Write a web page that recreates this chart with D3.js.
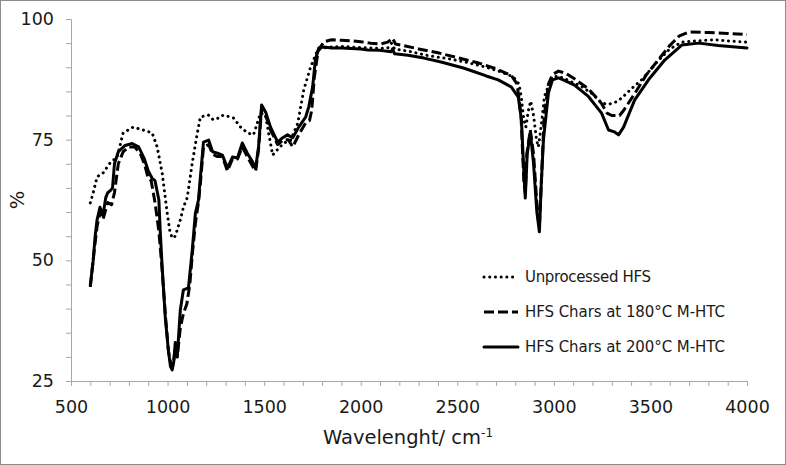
<!DOCTYPE html>
<html><head><meta charset="utf-8">
<script src="https://cdn.jsdelivr.net/npm/d3@7"></script>
<style>body{margin:0;background:#fff}svg{display:block}text{font-family:"DejaVu Sans",sans-serif;fill:#1a1a1a}</style>
</head><body>
<svg id="c" width="786" height="465"></svg>
<script>
// Series: [wavenumber, %] pairs
const seriesNames = ["Unprocessed HFS", "HFS Chars at 180°C M-HTC", "HFS Chars at 200°C M-HTC"];
const unprocessed = [[600,61.9],[615,64],[635,67.3],[666,68.1],[703,70.2],[739,71.4],[770,76.4],[822,77.6],[874,77],[920,76.4],[946,73.5],[972,68.1],[998,59.8],[1012,56],[1024,54.6],[1040,55],[1066,58.4],[1082,61],[1102,63],[1128,70.2],[1154,76.4],[1170,79.7],[1211,80.1],[1237,79.1],[1265,79.5],[1289,80.1],[1341,79.5],[1380,77.5],[1414,76.4],[1445,76],[1481,80.5],[1507,80.1],[1523,76.4],[1544,71.8],[1559,72.5],[1601,74.3],[1637,74.9],[1674,78.4],[1705,85.3],[1741,90.1],[1777,93.6],[1809,94],[1850,94.2],[1900,94.3],[1950,94.2],[2000,94.1],[2050,94.0],[2100,93.9],[2140,94.0],[2160,95.0],[2175,93.8],[2250,93.3],[2350,92.4],[2450,91.8],[2550,91.0],[2650,90.0],[2730,89.0],[2790,88],[2820,86.5],[2832,83.5],[2845,79],[2855,77.6],[2868,81],[2880,83],[2895,80],[2910,75],[2920,73.5],[2935,78],[2951,83.9],[2987,87.8],[3020,88.2],[3080,87.2],[3143,86],[3200,84.5],[3247,82.6],[3283,82.3],[3320,82.8],[3351,83.6],[3400,85.5],[3455,87.4],[3500,89.5],[3543,91.5],[3600,93.8],[3662,95.2],[3750,95.5],[3834,95.7],[3920,95.4],[4000,95.2]];
const chars180 = [[600,44.5],[620,52],[635,57],[650,60],[666,58.5],[690,62],[710,61.5],[725,64],[745,70],[770,72.5],[800,73.5],[830,73.5],[860,72],[880,70],[900,67],[915,66.5],[935,62],[955,56],[970,49],[990,38],[1005,31],[1020,28],[1030,28.5],[1040,32],[1050,30],[1066,36],[1082,39],[1100,41],[1115,45],[1130,52],[1145,58],[1160,62],[1170,66],[1186,73.5],[1213,74],[1233,72],[1258,71.5],[1284,71.5],[1310,68.5],[1336,71],[1362,71],[1387,73.5],[1413,71.5],[1440,69.5],[1456,68.5],[1471,73],[1487,81.5],[1508,80],[1533,77],[1570,74],[1600,75],[1625,75],[1648,73.5],[1679,76],[1715,78.5],[1735,79],[1746,81],[1760,88],[1780,93.5],[1810,95.3],[1850,95.7],[1900,95.6],[1950,95.5],[2000,95.3],[2050,95.0],[2100,94.8],[2140,95.2],[2165,96],[2180,94.8],[2220,94.5],[2300,93.8],[2400,93.0],[2500,92.0],[2600,91.0],[2700,89.7],[2780,88.3],[2810,86.5],[2830,80],[2845,66],[2852,64],[2860,72],[2878,77],[2895,72],[2915,60],[2925,57],[2935,66],[2950,80],[2972,86.5],[2993,88.5],[3024,89.2],[3060,88.8],[3107,87.6],[3180,85.5],[3247,82.5],[3275,80.5],[3300,80],[3340,80],[3360,81],[3418,84.5],[3480,88.5],[3540,91.5],[3600,94.5],[3650,96.5],[3700,97.3],[3800,97.2],[3900,97.0],[4000,96.8]];
const chars200 = [[600,44.8],[615,50],[625,55],[635,58.4],[650,61],[666,59.4],[680,63],[690,64],[705,64.5],[715,65],[725,70],[745,72.5],[780,73.8],[817,74.2],[850,73.5],[880,71],[900,68.5],[920,67],[935,66.5],[955,62.5],[962,56],[972,48.6],[988,38.3],[1004,31.4],[1015,28],[1024,27.3],[1032,29],[1040,33],[1050,30],[1066,39.7],[1082,43.9],[1108,44.3],[1128,52.2],[1144,59.8],[1160,62.5],[1170,67.3],[1186,74.5],[1213,74.9],[1233,72.5],[1258,72.2],[1284,71.8],[1310,69.1],[1336,71.4],[1362,71.2],[1387,74.3],[1413,72.2],[1440,70.4],[1456,69.1],[1471,73.5],[1487,82.2],[1508,80.7],[1533,77.6],[1570,74.5],[1596,75.4],[1621,76],[1648,75.4],[1679,77.6],[1715,79.7],[1731,81.8],[1751,85.9],[1765,91.5],[1783,94],[1809,94.2],[1850,94.0],[1900,94.0],[1950,93.9],[2000,93.8],[2037,93.6],[2100,93.5],[2157,93.2],[2165,93.8],[2175,92.8],[2245,92.5],[2328,91.9],[2416,91.1],[2536,89.8],[2650,88.2],[2712,87.4],[2780,85.9],[2816,83.8],[2832,79.1],[2845,68],[2852,62.9],[2862,72],[2878,76.6],[2895,70],[2912,60],[2925,55.9],[2935,66],[2946,74.9],[2972,84.7],[2993,87.4],[3024,87.8],[3060,87.2],[3107,86.3],[3180,83.9],[3247,80.5],[3283,77],[3314,76.6],[3335,76],[3361,77.6],[3418,83.2],[3490,87.4],[3574,91.5],[3662,94.6],[3751,95],[3850,94.5],[4000,94]];
const xTicks = [500,1000,1500,2000,2500,3000,3500,4000];
const yTicks = [25,50,75,100];

const svg = d3.select("#c");
const W = 786, H = 465;
const m = {left:71, right:39, top:19, bottom:84};
const x = d3.scaleLinear().domain([500,4000]).range([m.left, W-m.right]);
const y = d3.scaleLinear().domain([25,100]).range([H-m.bottom, m.top]);
const axisCol = "#a6a6a6";

svg.append("rect").attr("x",0.5).attr("y",0.5).attr("width",W-1).attr("height",H-1)
  .attr("fill","#fff").attr("stroke","#8c8c8c");

// x axis (minor ticks every 100)
const gx = svg.append("g").attr("transform",`translate(0,${y(25)})`)
  .call(d3.axisBottom(x).tickValues(d3.range(500,4001,100)).tickSize(5).tickFormat(d=>xTicks.includes(d)?d:""));
gx.select(".domain").attr("stroke",axisCol);
gx.selectAll(".tick line").attr("stroke",axisCol);
gx.selectAll(".tick text").attr("font-size",17.5).attr("y",26).attr("dy","0.35em").attr("fill","#1a1a1a").attr("font-family","DejaVu Sans");

const gy = svg.append("g").attr("transform",`translate(${x(500)},0)`)
  .call(d3.axisLeft(y).tickValues(d3.range(25,101,5)).tickSize(5).tickFormat(d=>yTicks.includes(d)?d:""));
gy.select(".domain").attr("stroke",axisCol);
gy.selectAll(".tick line").attr("stroke",axisCol);
gy.selectAll(".tick text").attr("font-size",17.5).attr("x",-17).attr("fill","#1a1a1a").attr("font-family","DejaVu Sans");

const line = d3.line().x(d=>x(d[0])).y(d=>y(d[1])).curve(d3.curveLinear);
const styles = [
  {data:unprocessed, dash:"0.1 5.6", cap:"round", w:3, tl:126},
  {data:chars180, dash:"10 4", cap:"butt", w:3, tl:200},
  {data:chars200, dash:null, cap:"round", w:3, tl:200}
];
styles.forEach(s=>{
  svg.append("path").attr("d",line(s.data)).attr("fill","none").attr("stroke","#000")
    .attr("stroke-width",s.w).attr("stroke-linecap",s.cap).attr("stroke-linejoin","round")
    .attr("stroke-dasharray",s.dash);
});

// legend
const lg = svg.append("g");
seriesNames.forEach((n,i)=>{
  const yy = 277 + i*35;
  const st = styles[i];
  lg.append("line").attr("x1",484).attr("x2",518).attr("y1",yy).attr("y2",yy)
    .attr("stroke","#000").attr("stroke-width",st.w).attr("stroke-linecap",st.cap)
    .attr("stroke-dasharray",st.dash);
  lg.append("text").attr("x",525).attr("y",yy).attr("dy","0.35em").attr("font-size",15)
    .attr("textLength",st.tl).attr("lengthAdjust","spacing").text(n);
});

// axis titles
const xt = svg.append("text").attr("x",408).attr("y",444).attr("text-anchor","middle").attr("font-size",19.5);
xt.append("tspan").text("Wavelenght/ cm");
xt.append("tspan").attr("font-size",12).attr("dy",-7).text("-1");
svg.append("text").attr("transform","translate(24,200) rotate(-90)").attr("text-anchor","middle")
  .attr("font-size",19.5).text("%");
</script>
</body></html>
